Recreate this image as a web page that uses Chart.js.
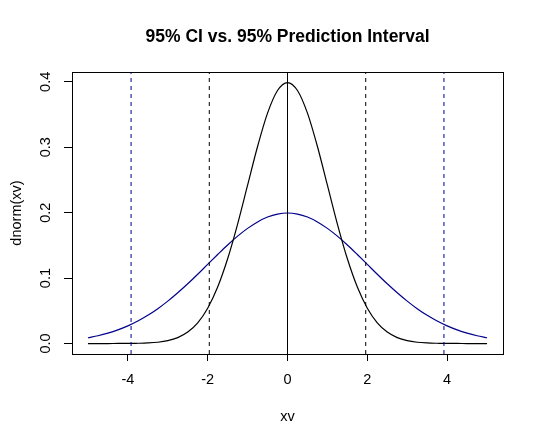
<!DOCTYPE html>
<html>
<head>
<meta charset="utf-8">
<script src="https://cdn.jsdelivr.net/npm/chart.js@4"></script>
<style>
  html, body { margin: 0; padding: 0; background: #fff; }
  #wrap { width: 540px; height: 444px; }
</style>
</head>
<body>
<div id="wrap"><canvas id="myChart"></canvas></div>
<script>
const chartTitle = "95% CI vs. 95% Prediction Interval";
const xv = [-5, -4.75, -4.5, -4.25, -4, -3.75, -3.5, -3.25, -3, -2.75, -2.5, -2.25, -2, -1.75, -1.5, -1.25, -1, -0.75, -0.5, -0.25,
  0, 0.25, 0.5, 0.75, 1, 1.25, 1.5, 1.75, 2, 2.25, 2.5, 2.75, 3, 3.25, 3.5, 3.75, 4, 4.25, 4.5, 4.75, 5];
// narrow curve (black)
const ciCurve = [0.0000, 0.0000, 0.0000, 0.0001, 0.0001, 0.0004, 0.0009, 0.0020, 0.0044, 0.0091, 0.0175, 0.0317, 0.0540, 0.0863, 0.1295, 0.1826, 0.2420, 0.3011, 0.3521, 0.3867,
  0.3989, 0.3867, 0.3521, 0.3011, 0.2420, 0.1826, 0.1295, 0.0863, 0.0540, 0.0317, 0.0175, 0.0091, 0.0044, 0.0020, 0.0009, 0.0004, 0.0001, 0.0001, 0.0000, 0.0000, 0.0000];
// wide curve (blue)
const piCurve = [0.0088, 0.0119, 0.0159, 0.0209, 0.0270, 0.0344, 0.0431, 0.0532, 0.0648, 0.0776, 0.0913, 0.1059, 0.1210, 0.1360, 0.1506, 0.1641, 0.1760, 0.1859, 0.1933, 0.1979,
  0.1995, 0.1979, 0.1933, 0.1859, 0.1760, 0.1641, 0.1506, 0.1360, 0.1210, 0.1059, 0.0913, 0.0776, 0.0648, 0.0532, 0.0431, 0.0344, 0.0270, 0.0209, 0.0159, 0.0119, 0.0088];
const ciBounds = [-1.96, 1.96];
const piBounds = [-3.92, 3.92];
const centerLine = [0];
const xTicks = [-4, -2, 0, 2, 4];
const yTicks = [0, 0.1, 0.2, 0.3, 0.4];
const xRange = [-5.4, 5.4];
const yRange = [-0.016, 0.415];

const navy = "#00008b";
const fontFam = "'Liberation Sans', Arial, sans-serif";
const labelSize = 14.5;

function toPoints(xs, ys) {
  return xs.map((x, i) => ({x: x, y: ys[i]}));
}
function vline(x, color, dash) {
  return {
    data: [{x: x, y: yRange[0]}, {x: x, y: yRange[1]}],
    borderColor: color,
    borderWidth: 1,
    borderDash: dash,
    pointRadius: 0,
    tension: 0,
  };
}

const datasets = [
  ...piBounds.map(x => vline(x, navy, [4, 4])),
  ...ciBounds.map(x => vline(x, "#000", [4, 4])),
  ...centerLine.map(x => vline(x, "#000", [])),
  {
    data: toPoints(xv, ciCurve),
    borderColor: "#000",
    borderWidth: 1.2,
    pointRadius: 0,
    cubicInterpolationMode: 'monotone',
  },
  {
    data: toPoints(xv, piCurve),
    borderColor: navy,
    borderWidth: 1.2,
    pointRadius: 0,
    cubicInterpolationMode: 'monotone',
  },
];

/*********************************
 PLUGINS
**********************************/
const boxPlugin = {
  id: 'rbox',
  afterDraw(chart) {
    const {ctx, chartArea: a, scales} = chart;
    ctx.save();
    ctx.strokeStyle = "#000";
    ctx.lineWidth = 1;
    ctx.strokeRect(Math.round(a.left) + 0.5, Math.round(a.top) + 0.5, Math.round(a.right - a.left), Math.round(a.bottom - a.top));
    // title
    ctx.fillStyle = "#000";
    ctx.font = "bold 17.5px " + fontFam;
    ctx.textAlign = "center";
    ctx.textBaseline = "middle";
    ctx.fillText(chartTitle, (a.left + a.right) / 2, 37);
    // rotated y tick labels, R style
    ctx.font = labelSize + "px " + fontFam;
    yTicks.forEach(v => {
      const py = scales.y.getPixelForValue(v);
      ctx.save();
      ctx.translate(46, py);
      ctx.rotate(-Math.PI / 2);
      ctx.fillText(v.toFixed(1), 0, 0);
      ctx.restore();
    });
    ctx.restore();
  }
};

const config = {
  type: 'line',
  data: {datasets: datasets},
  options: {
    responsive: true,
    maintainAspectRatio: false,
    animation: false,
    layout: {padding: {left: 0, top: 72, right: 37, bottom: 0}},
    plugins: {
      legend: {display: false},
      tooltip: {enabled: false},
      title: {display: false},
    },
    scales: {
      x: {
        type: 'linear',
        min: xRange[0],
        max: xRange[1],
        afterBuildTicks(scale) { scale.ticks = xTicks.map(v => ({value: v})); },
        afterFit(scale) { scale.height = 90; },
        grid: {drawOnChartArea: false, drawTicks: true, tickLength: 7, color: "#000", lineWidth: 1},
        border: {display: false},
        ticks: {color: "#000", font: {size: labelSize, family: fontFam}, padding: 10, maxRotation: 0, autoSkip: false},
        title: {display: true, text: 'xv', color: "#000", font: {size: labelSize, family: fontFam}, padding: {top: 0, bottom: 18}},
      },
      y: {
        type: 'linear',
        min: yRange[0],
        max: yRange[1],
        afterBuildTicks(scale) { scale.ticks = yTicks.map(v => ({value: v})); },
        afterFit(scale) { scale.width = 72; },
        grid: {drawOnChartArea: false, drawTicks: true, tickLength: 8, color: "#000", lineWidth: 1},
        border: {display: false},
        ticks: {display: false},
        title: {display: true, text: 'dnorm(xv)', color: "#000", font: {size: labelSize, family: fontFam}, padding: {top: 8, bottom: 0}},
      },
    },
  },
  plugins: [boxPlugin]
};
Chart.defaults.font.family = fontFam;
new Chart("myChart", config);
</script>
</body>
</html>
